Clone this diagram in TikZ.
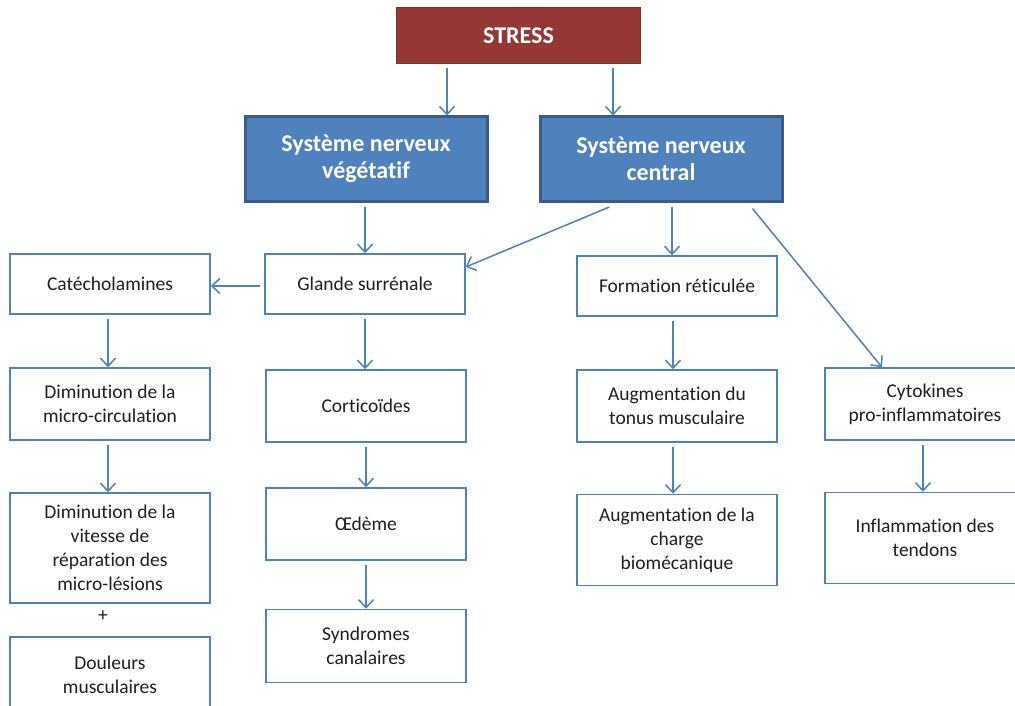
\documentclass[tikz,border=0pt]{standalone}
\usepackage{fontspec}
\setmainfont[Ligatures=NoCommon]{Carlito}
\usetikzlibrary{arrows.meta,positioning,calc}
\definecolor{Edge}{HTML}{4F81BD}
\definecolor{BlueFill}{HTML}{4F81BD}
\definecolor{BlueEdge}{HTML}{385D8A}
\definecolor{StressRed}{HTML}{953735}
\definecolor{Ink}{HTML}{1F1F1F}

\begin{document}
\begin{tikzpicture}[x=1pt,y=-1pt,
  plainbox/.style={draw=Edge,line width=1.5pt,fill=white,minimum width=200pt,align=center,
    text=Ink,inner sep=2pt,font=\fontsize{19.5}{24}\selectfont},
  bluebox/.style={draw=BlueEdge,line width=3pt,fill=BlueFill,minimum width=242pt,minimum height=84pt,
    align=center,text=white,font=\bfseries\fontsize{24}{27}\selectfont},
  stressbox/.style={draw=StressRed!85!black,line width=1pt,fill=StressRed,minimum width=244pt,
    minimum height=56pt,text=white,font=\bfseries\fontsize{24}{27}\selectfont},
  arr/.style={draw=Edge,line width=1.5pt,shorten <=4pt,-{Straight Barb[length=8pt,width=15pt]}}]
\clip (0,0) rectangle (1015,706);
\fill[white] (0,0) rectangle (1015,706);

\node[stressbox] (stress) at (518.5,35.5) {STRESS};
\node[bluebox] (snv) at (366,159) {Système nerveux\\végétatif};
\node[bluebox] (snc) at (661,159) {Système nerveux\\central};

\node[plainbox,minimum height=60pt] (catech) at (110,284) {Catécholamines};
\node[plainbox,minimum height=60pt] (glande) at (365,284) {Glande surrénale};
\node[plainbox,minimum height=60pt] (formation) at (677,286) {Formation réticulée};

\node[plainbox,minimum height=72pt] (dimmicro) at (110,404) {Diminution de la\\micro-circulation};
\node[plainbox,minimum height=72pt] (cortico) at (366,406) {Corticoïdes};
\node[plainbox,minimum height=72pt] (tonus) at (677,406) {Augmentation du\\tonus musculaire};
\node[plainbox,minimum height=72pt] (cytok) at (925,404) {Cytokines\\pro-inflammatoires};

\node[plainbox,minimum height=110pt] (dimvit) at (110,548) {Diminution de la\\vitesse de\\réparation des\\micro-lésions};
\node[plainbox,minimum height=72pt] (oedeme) at (366,524) {Œdème};
\node[plainbox,minimum height=91pt] (charge) at (677,540) {Augmentation de la\\charge\\biomécanique};
\node[plainbox,minimum height=91pt] (inflam) at (925,538) {Inflammation des\\tendons};

\node[text=Ink,font=\fontsize{19.5}{24}\selectfont] (plus) at (103,616) {+};
\node[plainbox,minimum height=76pt] (douleurs) at (110,675) {Douleurs\\musculaires};
\node[plainbox,minimum height=73pt] (syndromes) at (366,646) {Syndromes\\canalaires};

\draw[arr] ([xshift=-71.5pt]stress.south) -- ([xshift=81pt]snv.north);
\draw[arr] ([xshift=94.5pt]stress.south) -- ([xshift=-48pt]snc.north);
\draw[arr] ([xshift=-1pt]snv.south) -- (glande.north);
\draw[arr] ([xshift=-48pt,yshift=-3pt]snc.south) -- ([yshift=17pt]glande.east);
\draw[arr] ([xshift=11pt]snc.south) -- ([xshift=-5pt]formation.north);
\draw[arr] ([xshift=89pt,yshift=-3pt]snc.south) -- ([xshift=-43pt]cytok.north);
\draw[arr] ([yshift=-2pt]glande.west) -- ([yshift=-2pt]catech.east);
\draw[arr] ([xshift=-2pt]catech.south) -- ([xshift=-2pt]dimmicro.north);
\draw[arr] ([xshift=-2pt]dimmicro.south) -- ([xshift=-2pt]dimvit.north);
\draw[arr] (glande.south) -- ([xshift=-1pt]cortico.north);
\draw[arr] (cortico.south) -- (oedeme.north);
\draw[arr] (oedeme.south) -- (syndromes.north);
\draw[arr] ([xshift=-4pt]formation.south) -- ([xshift=-4pt]tonus.north);
\draw[arr] ([xshift=-4pt]tonus.south) -- ([xshift=-4pt]charge.north);
\draw[arr] ([xshift=-2pt]cytok.south) -- ([xshift=-2pt]inflam.north);
\end{tikzpicture}
\end{document}
